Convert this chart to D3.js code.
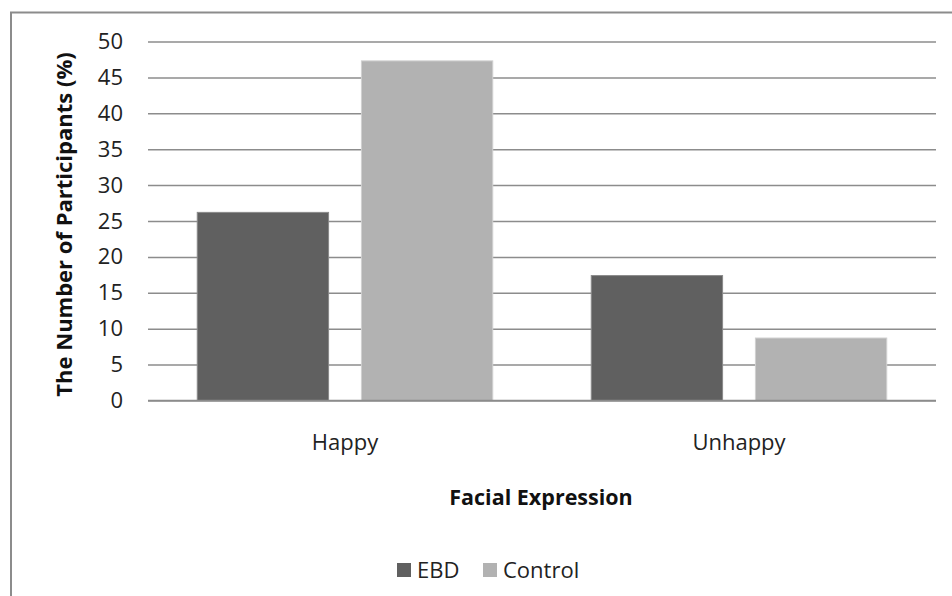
<!DOCTYPE html>
<html>
<head>
<meta charset="utf-8">
<script src="https://cdn.jsdelivr.net/npm/d3@7"></script>
<style>
  html, body { margin: 0; padding: 0; background: #fff; }
  svg { display: block; font-family: "Open Sans", sans-serif; }
</style>
</head>
<body>
<svg id="chart" width="952" height="596"></svg>
<script>
// Share of participants (%) per facial expression, by group
const categories = ["Happy", "Unhappy"];
const seriesNames = ["EBD", "Control"];
const ebdValues = [26.2, 17.4];
const controlValues = [47.3, 8.7];
const yTicks = [0, 5, 10, 15, 20, 25, 30, 35, 40, 45, 50];
const colors = ["#606060", "#b2b2b2"];
const edgeColors = ["#8a8a8a", "#cfcfcf"];

const svg = d3.select("#chart");
const W = 952, H = 596;
const plot = { left: 148, right: 936, top: 41.5, bottom: 400.5 };

// outer frame (runs off the right and bottom edges)
svg.append("rect")
  .attr("x", 11).attr("y", 12.5)
  .attr("width", W + 20).attr("height", H + 20)
  .attr("fill", "#fff").attr("stroke", "#8c8c8c").attr("stroke-width", 2);

const y = d3.scaleLinear().domain([0, 50]).range([plot.bottom, plot.top]);
const x0 = d3.scaleBand().domain(categories).range([plot.left, plot.right])
  .paddingInner(0.25).paddingOuter(0.125);
const x1 = d3.scaleBand().domain(seriesNames).range([0, x0.bandwidth()]).paddingInner(0.2).paddingOuter(0);

// horizontal gridlines + y tick labels
const yAxis = d3.axisLeft(y).tickValues(yTicks).tickSize(-(plot.right - plot.left)).tickPadding(25);
const gy = svg.append("g").attr("transform", `translate(${plot.left},0)`).call(yAxis);
gy.select(".domain").remove();
gy.selectAll(".tick line").attr("stroke", "#8c8c8c").attr("stroke-width", 1.5);
gy.selectAll(".tick text")
  .attr("fill", "#222").attr("font-size", 22).attr("font-family", "Open Sans, sans-serif");

// bars
const rows = categories.map((c, i) => ({ cat: c, vals: [ebdValues[i], controlValues[i]] }));
const groups = svg.append("g").selectAll("g").data(rows).join("g")
  .attr("transform", d => `translate(${x0(d.cat)},0)`);
groups.selectAll("rect")
  .data(d => d.vals.map((v, j) => ({ name: seriesNames[j], v, j })))
  .join("rect")
  .attr("x", d => x1(d.name))
  .attr("y", d => y(d.v))
  .attr("width", x1.bandwidth())
  .attr("height", d => y(0) - y(d.v))
  .attr("fill", d => colors[d.j])
  .attr("stroke", d => edgeColors[d.j])
  .attr("stroke-width", 1);

// baseline
svg.append("line")
  .attr("x1", plot.left).attr("x2", plot.right)
  .attr("y1", y(0)).attr("y2", y(0))
  .attr("stroke", "#8c8c8c").attr("stroke-width", 1.5);

// category labels
const xAxis = d3.axisBottom(x0).tickSize(0).tickPadding(34);
const gx = svg.append("g").attr("transform", `translate(0,${plot.bottom})`).call(xAxis);
gx.select(".domain").remove();
gx.selectAll(".tick text")
  .attr("fill", "#222").attr("font-size", 22).attr("font-family", "Open Sans, sans-serif");

// axis titles
svg.append("text")
  .attr("transform", `translate(72,${(52 + 397) / 2}) rotate(-90)`)
  .attr("text-anchor", "middle")
  .attr("font-size", 22).attr("font-weight", "bold").attr("fill", "#111")
  .text("The Number of Participants (%)");

svg.append("text")
  .attr("x", 541).attr("y", 505)
  .attr("text-anchor", "middle")
  .attr("font-size", 21.5).attr("font-weight", "bold").attr("fill", "#111")
  .text("Facial Expression");

// legend
const legendItems = [
  { name: seriesNames[0], x: 397 },
  { name: seriesNames[1], x: 483 }
];
const lg = svg.append("g").selectAll("g").data(legendItems).join("g")
  .attr("transform", d => `translate(${d.x},0)`);
lg.append("rect")
  .attr("x", 0).attr("y", 563).attr("width", 14).attr("height", 14)
  .attr("fill", (d, i) => colors[i]);
lg.append("text")
  .attr("x", 20).attr("y", 578)
  .attr("font-size", 22).attr("fill", "#222")
  .text(d => d.name);
</script>
</body>
</html>
